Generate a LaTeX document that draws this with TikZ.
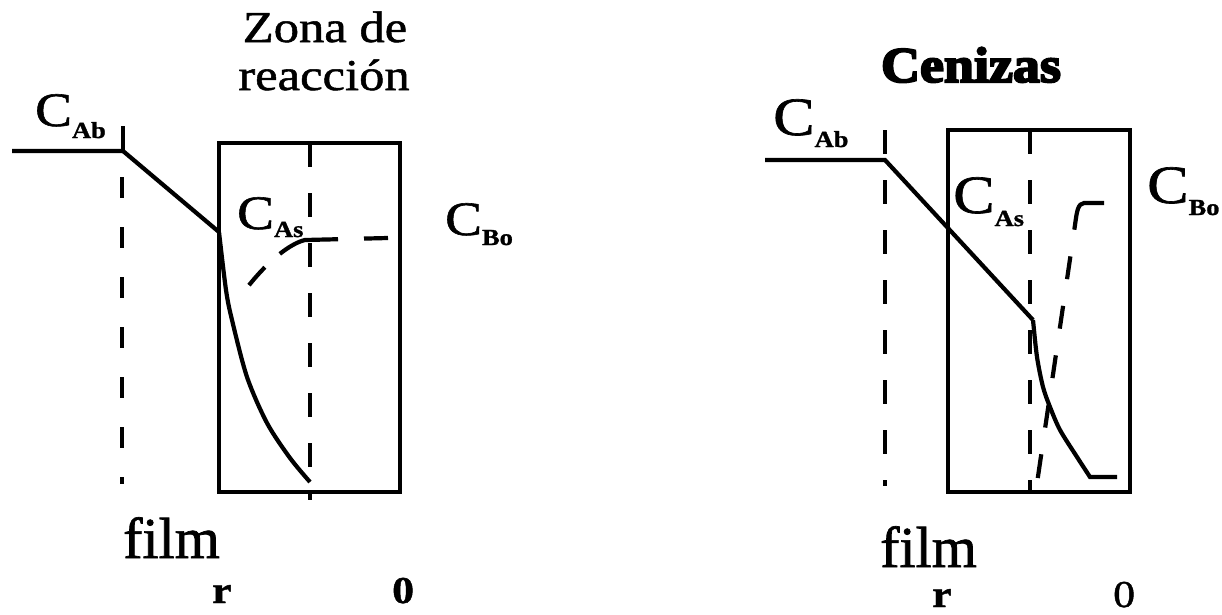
\documentclass[tikz,border=0pt]{standalone}
\usepackage{fontspec}
\setmainfont{Liberation Serif}[FakeStretch=1.15, FakeBold=1.2, BoldFeatures={FakeBold=1.2}]
\newfontfamily\filmfont{Liberation Serif}[FakeBold=1.2]
\newfontfamily\heavyfont{Liberation Serif}[FakeStretch=1.08, BoldFeatures={FakeBold=4}]
\newcommand\ConcLabel[3]{{\fontsize{#1}{#1}\selectfont C}\raisebox{-#3}{\fontsize{23pt}{23pt}\selectfont\bfseries #2}}
\begin{document}
\begin{tikzpicture}[x=1pt,y=-1pt,
  lbl/.style={inner sep=0pt, anchor=base west},
  ctr/.style={inner sep=0pt, anchor=base},
  solidln/.style={line width=4.2pt, line join=miter},
  dashln/.style={line width=4.2pt, dash pattern=on 24pt off 26pt},
  filmln/.style={line width=4.2pt, dash pattern=on 21pt off 29pt},
  boxln/.style={line width=4.2pt}]
\useasboundingbox (0,0) rectangle (1222,614);

% ---------------- left panel ----------------
\node[ctr] (zona) at (325,42) {\fontsize{44pt}{44pt}\selectfont Zona de};
\node[ctr] (reac) at (324,90) {\fontsize{44pt}{44pt}\selectfont reacción};
\node[lbl] (lCAb) at (35,126) {\ConcLabel{48pt}{Ab}{12pt}};
\node[lbl] (lCAs) at (237,229) {\ConcLabel{48pt}{As}{8pt}};
\node[lbl] (lCBo) at (445,235) {\ConcLabel{48pt}{Bo}{10pt}};
\node[lbl] (lfilm) at (123,558) {\filmfont\fontsize{58pt}{58pt}\selectfont film};
\node[lbl] (lr) at (212,603) {\fontsize{38pt}{38pt}\selectfont\bfseries r};
\node[lbl] (l0) at (392,603) {\fontsize{38pt}{38pt}\selectfont\bfseries 0};

\coordinate (lA) at (12,151);
\coordinate (lK) at (123,151);
\coordinate (lT) at (123,126);
\coordinate (lS) at (219,232);
\draw[solidln] (lA) -- (lK) -- (lS);
\draw[solidln] (lK) -- (lT);
\draw[boxln] (219,143) rectangle (400,492);
\draw[filmln] (122,177) -- (122,484);
\draw[dashln] (310,143) -- (310,500);
\draw[solidln] plot[smooth] coordinates {(219,232) (226,290) (232,320) (247,377) (267,423) (290,458) (310,482)};
\draw[line width=4.2pt, dash pattern=on 24pt off 26pt on 62pt off 20pt on 24pt off 200pt]
  (388,238) -- (305,240) .. controls (292,243) and (270,258) .. (246,289);

% ---------------- right panel ----------------
\node[ctr] (cen) at (971,82) {\heavyfont\bfseries\fontsize{50pt}{50pt}\selectfont Cenizas};
\node[lbl] (rCAb) at (773,135) {\ConcLabel{54pt}{Ab}{12pt}};
\node[lbl] (rCAs) at (953,213) {\ConcLabel{54pt}{As}{13pt}};
\node[lbl] (rCBo) at (1147,203) {\ConcLabel{54pt}{Bo}{12pt}};
\node[lbl] (rfilm) at (880,567) {\filmfont\fontsize{58pt}{58pt}\selectfont film};
\node[lbl] (rr) at (932,607) {\fontsize{38pt}{38pt}\selectfont\bfseries r};
\node[lbl] (r0) at (1113,607) {\fontsize{38pt}{38pt}\selectfont 0};

\coordinate (rA) at (765,160);
\coordinate (rK) at (885,160);
\coordinate (rS) at (1033,320);
\draw[solidln] (rA) -- (rK) -- (rS);
\draw[boxln] (948,130) rectangle (1130,492);
\draw[dashln] (885,130) -- (885,486);
\draw[dashln] (1030,130) -- (1030,490);
\draw[solidln] plot[smooth] coordinates {(1033,320) (1037,357) (1043,387) (1050,407) (1060,430) (1077,457) (1090,477)} -- (1117,477);
\draw[line width=4.2pt, dash pattern=on 50pt off 27pt on 23pt off 27pt on 23pt off 27pt on 23pt off 27pt on 23pt off 27pt on 24pt off 100pt]
  (1104,203) -- (1084,203) .. controls (1078,204) and (1077,210) .. (1075,225) -- (1036,490);
\end{tikzpicture}
\end{document}
